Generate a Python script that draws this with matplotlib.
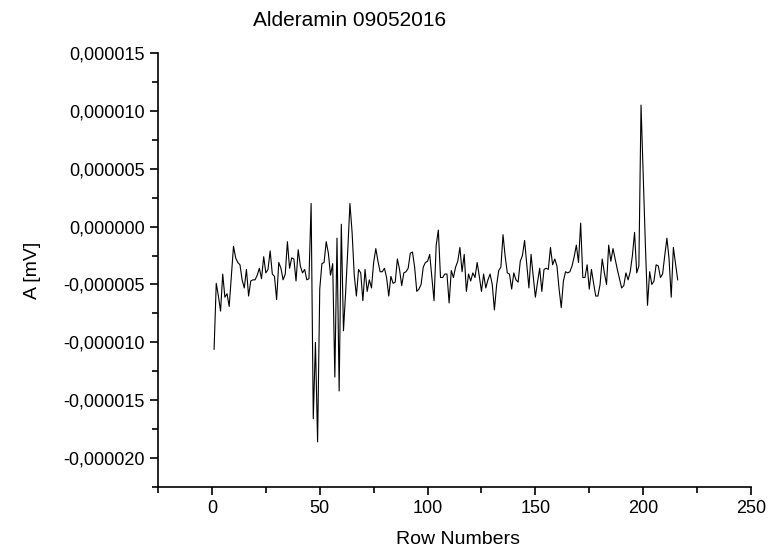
import matplotlib
matplotlib.use("Agg")
import matplotlib.pyplot as plt
from matplotlib.ticker import MultipleLocator, FuncFormatter

# values in units of 1e-6 mV, rows 1..216
values_e6 = [
    -10.6, -4.9, -6.0, -7.3, -4.1, -6.1, -5.8, -6.9, -4.3, -1.7,
    -2.7, -3.1, -3.3, -4.6, -5.3, -3.7, -6.0, -4.7, -4.6, -4.6,
    -4.2, -3.6, -4.5, -2.6, -4.0, -3.7, -2.1, -4.1, -4.3, -6.3,
    -3.1, -3.6, -4.6, -4.1, -1.3, -3.6, -2.7, -2.8, -4.7, -2.0,
    -3.4, -4.0, -3.7, -4.6, -4.5, 2.0, -16.6, -10.0, -18.6, -5.4,
    -3.2, -3.1, -1.3, -2.3, -4.2, -3.2, -13.0, -1.0, -14.2, 0.2,
    -9.0, -5.7, -2.0, 2.0, -0.5, -4.2, -6.0, -3.7, -4.0, -6.4,
    -3.7, -5.6, -4.6, -5.3, -3.1, -1.9, -3.0, -3.9, -3.9, -3.6,
    -4.4, -6.0, -4.3, -4.9, -4.8, -2.8, -3.7, -5.1, -4.0, -3.9,
    -3.6, -2.3, -2.2, -3.5, -5.6, -5.4, -5.0, -3.5, -3.1, -3.0,
    -2.4, -4.4, -6.4, -1.6, -0.3, -4.4, -4.4, -4.1, -4.1, -6.6,
    -3.8, -4.4, -3.5, -3.0, -1.8, -3.9, -2.4, -5.6, -4.1, -4.7,
    -4.0, -4.4, -3.1, -4.3, -5.6, -4.1, -5.3, -4.6, -4.1, -5.0,
    -7.2, -5.1, -3.8, -3.5, -0.7, -2.6, -4.0, -4.1, -5.4, -4.0,
    -4.6, -4.8, -3.0, -2.5, -1.2, -3.3, -5.3, -2.4, -4.3, -6.1,
    -4.8, -3.6, -5.6, -3.7, -3.6, -3.7, -1.8, -3.3, -2.8, -3.4,
    -5.4, -7.0, -4.7, -3.9, -4.0, -3.9, -3.4, -2.6, -1.6, -3.1,
    0.3, -4.4, -4.4, -3.3, -5.4, -3.7, -4.9, -6.0, -6.0, -5.0,
    -2.8, -4.0, -5.0, -1.6, -3.0, -1.9, -2.8, -3.7, -4.5, -5.3,
    -5.1, -4.0, -4.6, -3.9, -2.5, -0.5, -4.0, -3.4, 10.5, 4.5,
    -1.5, -6.8, -3.9, -5.0, -4.7, -3.3, -3.4, -4.4, -4.1, -2.5,
    -1.0, -2.8, -6.1, -1.8, -3.2, -4.6,
]
rows = list(range(1, len(values_e6) + 1))
amplitude = [v * 1e-6 for v in values_e6]

plt.rcParams['font.family'] = ['Liberation Sans', 'DejaVu Sans']

fig = plt.figure(figsize=(7.72, 5.59), dpi=100)
ax = fig.add_axes([0.2047, 0.1288, 0.9728 - 0.2047, 0.9052 - 0.1288])
ax.plot(rows, amplitude, color='black', linewidth=0.8)

ax.set_xlim(-25, 250)
ax.set_ylim(-22.5e-6, 15e-6)
ax.xaxis.set_major_locator(MultipleLocator(50))
ax.xaxis.set_minor_locator(MultipleLocator(25))
ax.yaxis.set_major_locator(MultipleLocator(5e-6))
ax.yaxis.set_minor_locator(MultipleLocator(2.5e-6))
ax.yaxis.set_major_formatter(FuncFormatter(
    lambda v, p: ("%.6f" % v).replace(".", ",").replace("-0,000000", "0,000000")))

for s in ['top', 'right']:
    ax.spines[s].set_visible(False)
for s in ['left', 'bottom']:
    ax.spines[s].set_linewidth(1.2)
ax.tick_params(which='major', direction='out', length=6, width=1.2, labelsize=13)
ax.tick_params(which='minor', direction='out', length=4, width=1.2)

ax.set_xlabel("Row Numbers", fontsize=14)
ax.set_ylabel("A [mV]", fontsize=14)
ax.xaxis.set_label_coords(0.506, -0.101)
ax.yaxis.set_label_coords(-0.197, 0.5)
fig.text(0.453, 0.963, "Alderamin 09052016", ha='center', va='center', fontsize=15)

fig.savefig("out.png", dpi=100)
